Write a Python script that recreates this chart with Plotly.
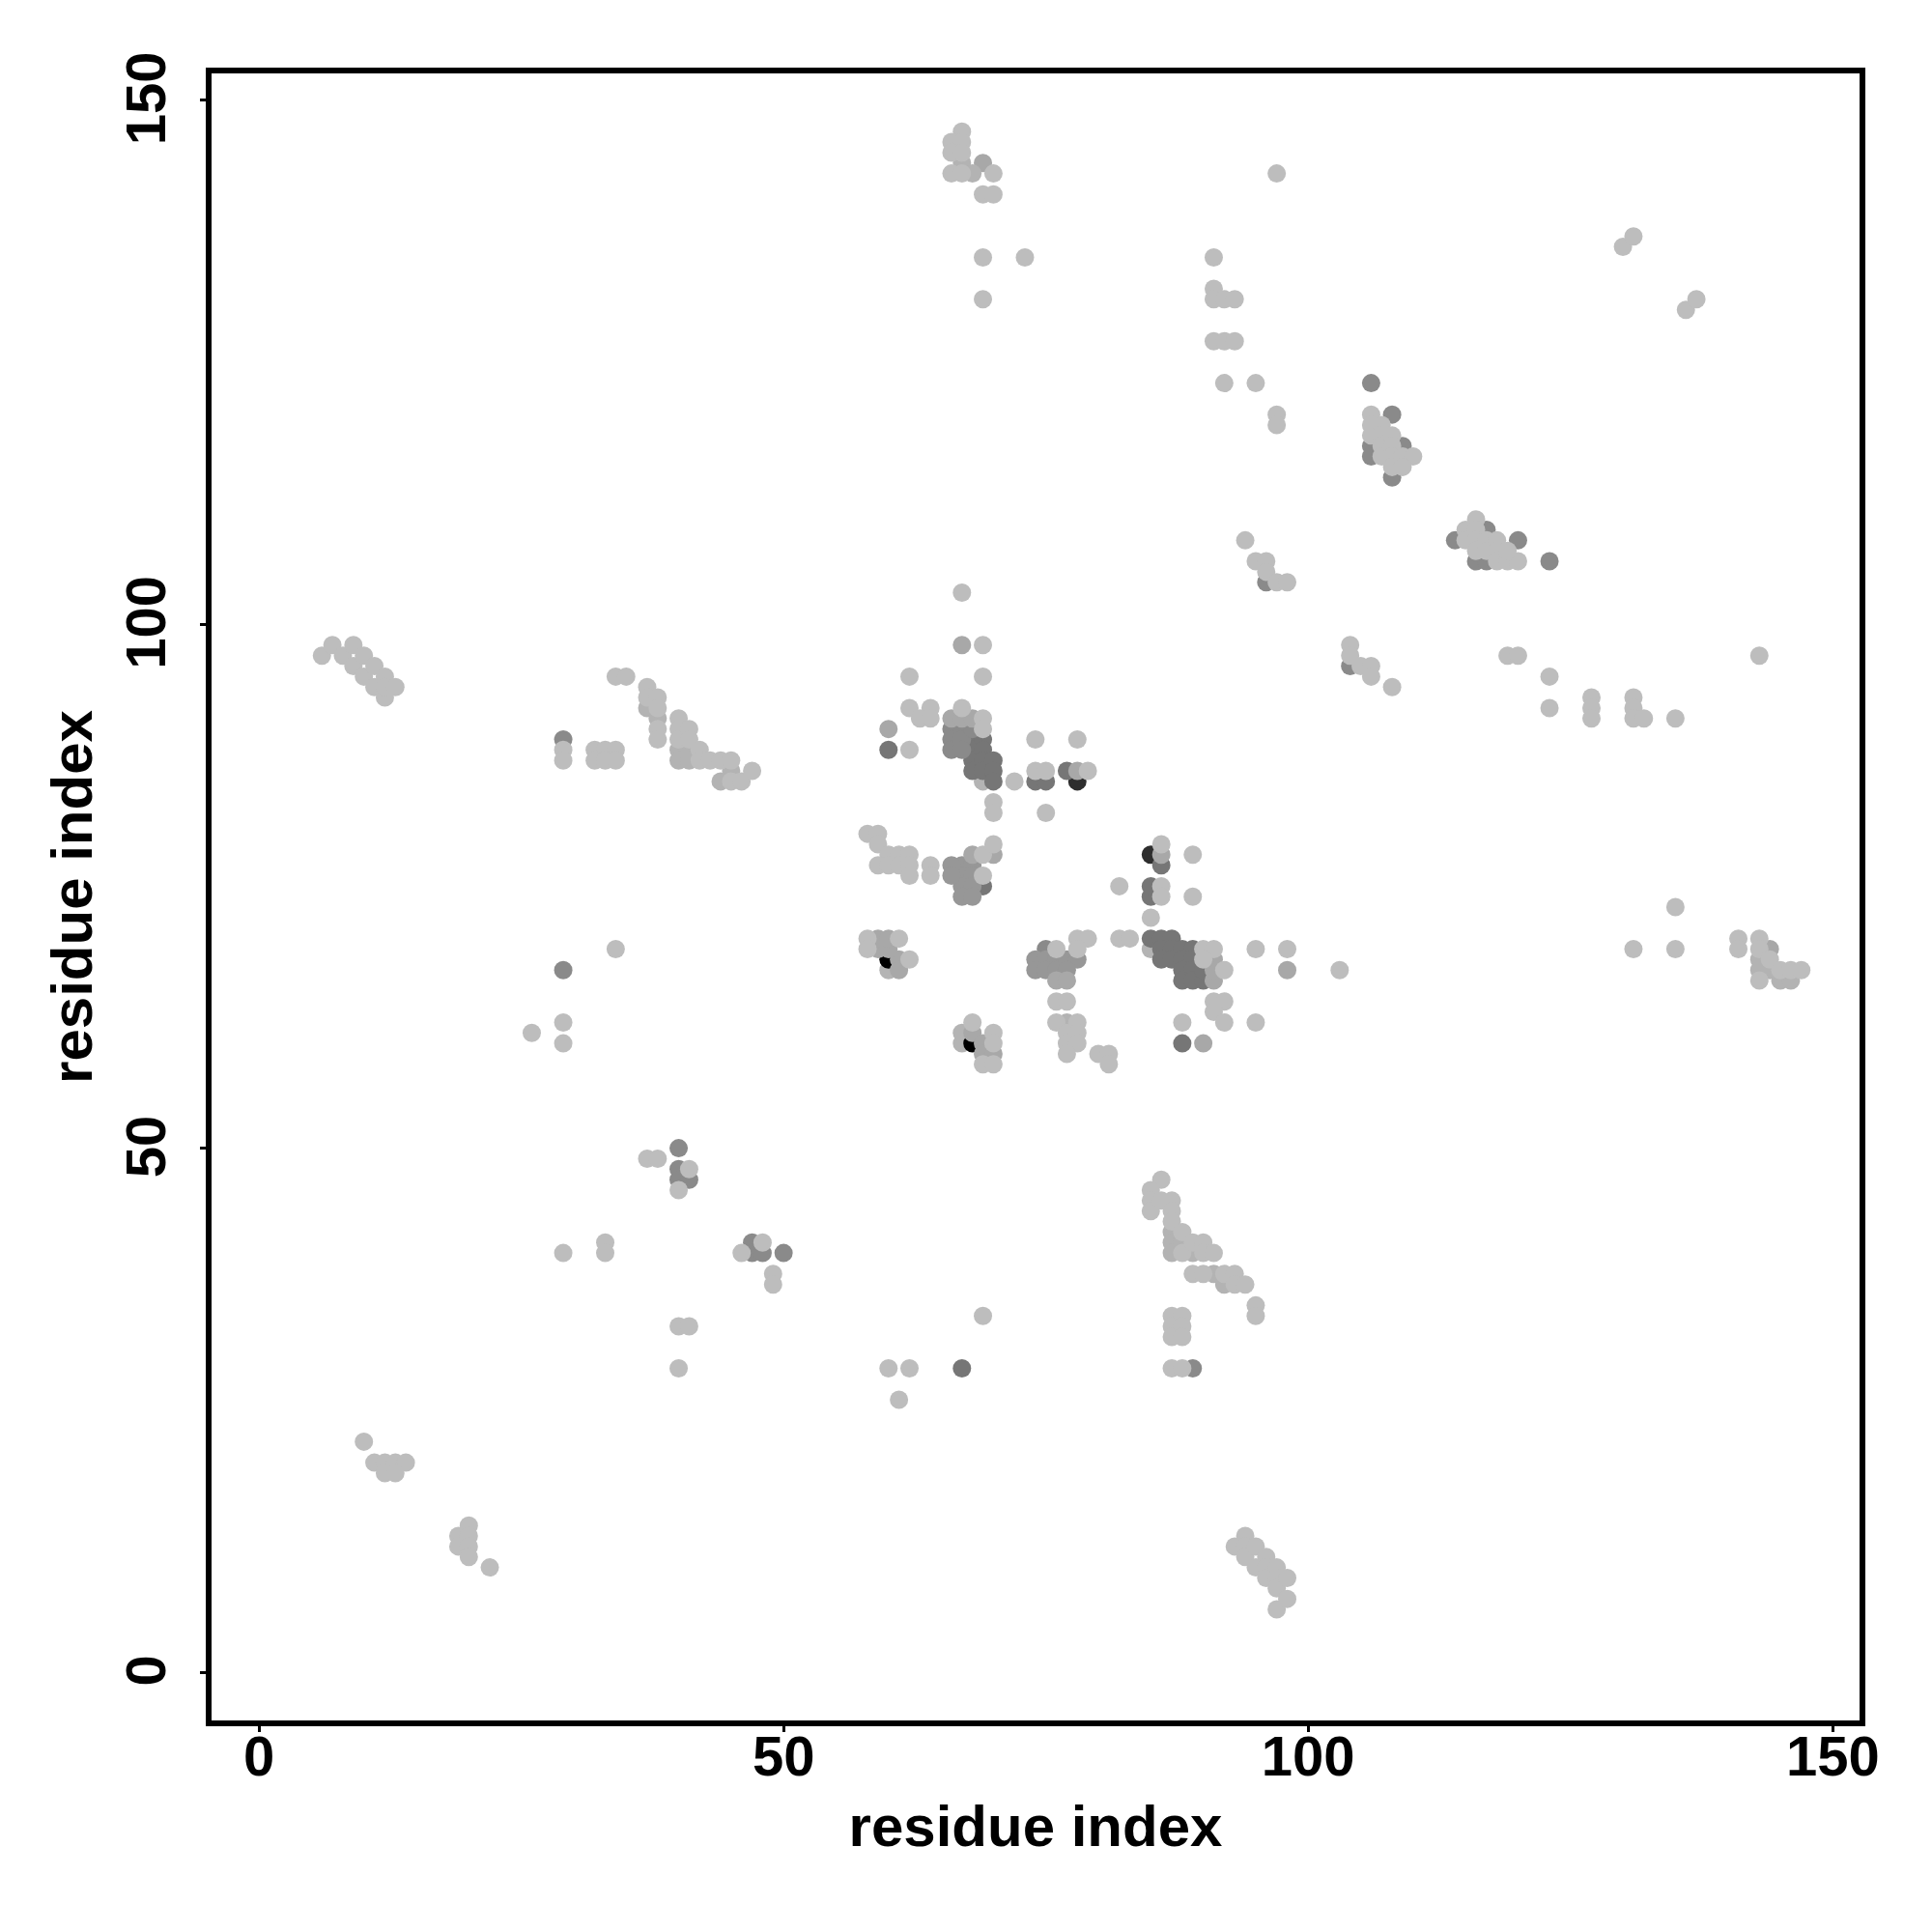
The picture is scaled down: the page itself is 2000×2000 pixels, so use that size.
import plotly.graph_objects as go

tick_values = [0, 50, 100, 150]
axis_label = "residue index"

light_under = [(69,85),(85,69),(67,60),(67,61),(60,67)]
black = [(60,68),(68,60)]
very_dark = [(85,78),(78,85)]
dark = [(60,88),(74,85),(75,85),(77,86),(85,74),(85,75),(86,77),(88,60),(67,29),(69,75),
        (68,89),(68,88),(68,87),(68,86),(69,89),(69,88),(69,87),(69,86),(70,87),(70,86),(70,85),
        (85,70),(86,70),(87,70),(86,69),(87,69),(88,69),(89,69),(86,68),(87,68),(88,68),(89,68),
        (88,67),(89,67),(88,66),(89,66),(90,66),(90,67)]
dark2 = [(29,89),(29,67),(40,50),(40,48),(40,47),(41,47),(47,41),(47,40),(48,40),(50,40),
         (106,123),(106,117),(106,116),(108,120),(109,117),(108,114),(114,108),(117,109),
         (120,108),(116,106),(117,106),(123,106),(104,96),(96,104),(89,29),
         (66,90),(66,89),(66,88),(67,90),(67,89),(67,88),(68,90),(75,69)]
mid_dark = [(74,68),(75,68),(76,68),(77,68),(78,68),(74,67),(75,67),(76,67),(77,67),
            (67,77),(68,77),(67,76),(68,76),(67,75),(68,75),(67,74),(68,74),(66,77),(66,76)]
mid = [(67,98),(60,90),(78,86),(86,78),(61,68),(61,67),(59,69),(60,69),(59,70),(60,70),
       (144,69),(98,67),(90,60),(66,91),(67,91),(68,91),(68,78),(70,78),(76,66),(77,66),(91,66),
       (91,67),(91,68),(68,61),(69,60),(69,59),(70,59),(69,144)]
light2 = [(37,92),(38,91),(40,88),(41,88),(40,87),(41,87),(45,86),(44,85),
          (87,42),(87,41),(87,40),(88,41),(89,40),(91,38),(92,37),
          (143,68),(143,67),(144,67),(145,66),(146,66),(67,144),(68,143),(77,62)]
light = [(67,103),(69,98),(62,95),(69,95),(62,92),(64,92),(63,91),(64,91),(62,88),(67,92),(69,91),(69,90),
         (72,85),(74,89),(78,89),(74,86),(75,86),(79,86),(70,83),(70,82),(75,82),
         (58,80),(59,80),(59,79),(60,78),(61,78),(62,78),(59,77),(60,77),(61,77),(62,77),(64,77),(62,76),(64,76),
         (69,78),(70,79),(69,76),(86,79),(89,78),(82,75),(86,75),(86,74),(89,74),(85,72),
         (58,70),(61,70),(58,69),(62,68),(78,70),(79,70),(82,70),(83,70),(76,69),(78,69),(90,69),(91,69),(95,69),(90,68),
         (92,67),(76,64),(77,64),(91,64),(92,64),(91,63),(76,62),(78,62),(88,62),(92,62),(95,62),(77,61),(78,61),
         (68,62),(70,61),(70,60),(69,58),(70,58),(77,60),(78,60),(77,59),(80,59),(81,59),(81,58),
         (98,69),(103,67),(67,147),(66,146),(67,146),(66,145),(67,145),(66,143),(67,143),(70,143),(69,141),(70,141),
         (69,135),(73,135),(69,131),(97,143),(91,135),(91,132),(91,131),(92,131),(93,131),(91,127),(92,127),(93,127),
         (92,123),(95,123),(97,120),(97,119),(130,136),(131,137),(136,130),(137,131),
         (106,120),(106,119),(106,118),(107,119),(107,118),(107,117),(107,116),(108,118),(108,117),(108,116),(108,115),
         (109,116),(110,116),(109,115),(116,110),(115,109),(115,108),(116,109),(116,108),(116,107),(117,108),(117,107),
         (118,108),(118,107),(118,106),(119,106),(120,106),(119,107),
         (6,97),(7,98),(8,97),(9,98),(9,96),(10,97),(10,95),(11,96),(11,94),(12,95),(12,93),(12,94),(13,94),
         (29,88),(29,87),(32,88),(33,88),(34,88),(32,87),(33,87),(34,87),(34,95),(35,95),(37,94),(37,93),
         (38,93),(38,92),(38,90),(38,89),(40,91),(40,90),(40,89),(41,90),(41,89),(42,88),(42,87),(43,87),(44,87),(45,87),
         (45,85),(46,85),(47,86),
         (86,47),(85,46),(85,45),(85,44),(86,45),(87,45),(87,44),(87,43),(88,42),(88,40),(89,41),(90,41),(90,40),(91,40),
         (89,38),(90,38),(92,38),(93,38),(93,37),(94,37),(95,35),(95,34),(87,34),(88,34),(87,33),(88,33),(87,32),(88,32),(87,29),(88,29),
         (37,49),(38,49),(41,48),(40,46),(46,40),(48,41),(49,38),(49,37),
         (29,40),(33,41),(33,40),(26,61),(29,62),(29,60),(34,69),(40,33),(41,33),(40,29),(60,29),(62,29),(61,26),(69,34),
         (10,22),(11,20),(12,20),(13,20),(14,20),(12,19),(13,19),(20,14),(19,13),(20,13),(19,12),(20,12),(20,11),(22,10),
         (93,12),(94,13),(94,12),(94,11),(95,12),(95,10),(96,11),(96,10),(96,9),(97,10),(97,9),(97,8),(97,6),(98,9),(98,7),
         (94,108),(95,106),(96,106),(96,105),(97,104),(98,104),(104,98),(104,97),(105,96),(106,96),(106,95),(108,94),
         (119,97),(120,97),(123,95),(123,92),(127,93),(127,92),(127,91),(131,93),(131,92),(131,91),(132,91),(135,91),(143,97),
         (131,69),(135,73),(135,69),(141,70),(141,69),(143,70),(143,69),(143,66),(144,68),(145,67),(146,67),(147,67)]

groups = [(light_under, "#b4b4b4"), (black, "#000000"), (very_dark, "#2e2e2e"), (dark, "#767676"),
          (dark2, "#8a8a8a"), (mid_dark, "#979797"), (mid, "#a8a8a8"), (light2, "#b3b3b3"), (light, "#bdbdbd")]

fig = go.Figure()
for pts, col in groups:
    fig.add_trace(go.Scatter(x=[p[0] for p in pts], y=[p[1] for p in pts], mode="markers",
                             marker=dict(size=19, color=col, line=dict(width=0)),
                             showlegend=False, hoverinfo="skip"))

tick_font = dict(family="Liberation Sans", size=58, color="black", weight="bold")
title_font = dict(family="Liberation Sans", size=60, color="black", weight="bold")
axis_common = dict(tickvals=tick_values, showgrid=False, zeroline=False, showline=True, mirror=True,
                   linecolor="black", linewidth=6, ticks="outside", ticklen=6, tickwidth=3, tickcolor="black",
                   tickfont=tick_font)
fig.update_xaxes(range=[-4.52, 152.55], ticklabelstandoff=-25, title=dict(text=axis_label, font=title_font, standoff=22), **axis_common)
fig.update_yaxes(range=[-4.6, 152.55], tickangle=-90, ticklabelstandoff=13, ticklabelshift=7,
                 title=dict(text=axis_label, font=title_font, standoff=5), **axis_common)
fig.update_layout(width=1984, height=1984, autosize=False, paper_bgcolor="white", plot_bgcolor="white",
                  margin=dict(l=211, r=67, t=67.7, b=211, autoexpand=False))
fig.write_html("out.html")
